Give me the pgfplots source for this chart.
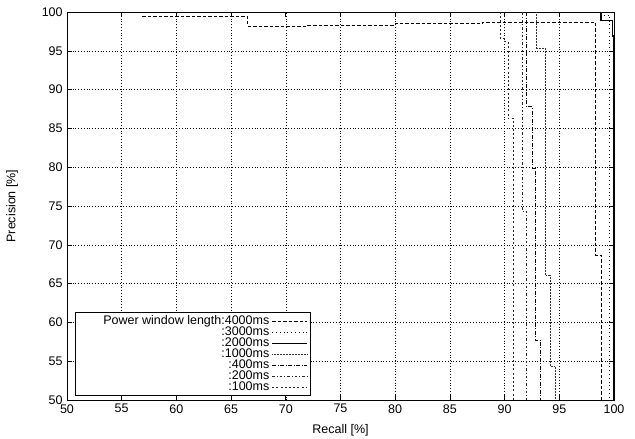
\documentclass[border=0pt]{standalone}
\usepackage{fontspec}
\setmainfont{Liberation Sans}
\usepackage{pgfplots}
\pgfplotsset{compat=1.18}
\begin{document}
\fontsize{12.5pt}{15pt}\selectfont
\begin{tikzpicture}
\useasboundingbox (-67pt,-39pt) rectangle (568pt,400pt);
\begin{axis}[
  at={(0,0)}, anchor=south west,
  scale only axis, width=547pt, height=388pt,
  xmin=50, xmax=100, ymin=50, ymax=100,
  xtick={50,55,...,100}, ytick={50,55,...,100},
  grid=major,
  major grid style={black, line width=0.4pt, dash pattern=on 0.6pt off 2.2pt},
  tick align=inside, major tick length=5pt,
  tick style={black, line width=0.6pt},
  axis line style={line width=0.9pt},
  /pgf/number format/assume math mode=true,
  tick label style={font=\fontsize{12.5pt}{15pt}\selectfont},
  label style={font=\fontsize{12.5pt}{15pt}\selectfont},
  xlabel={Recall [\%]}, ylabel={Precision [\%]},
  x label style={at={(axis description cs:0.5,-0.077)}, anchor=center},
  y label style={at={(axis description cs:-0.1005,0.5)}, anchor=center},
  legend plot pos=right,
  legend cell align=right,
  legend image code/.code={\draw[#1] (0pt,0pt) -- (35pt,0pt);},
  legend style={at={(axis description cs:0.0146,0.0103)}, anchor=south west,
    draw=black, line width=0.6pt, fill=white, font=\fontsize{12.5pt}{15pt}\selectfont,
    row sep=-3.6pt, inner xsep=2pt, inner ysep=1pt},
]
% 4000ms
\addplot[black, line width=0.7pt, dash pattern=on 3.5pt off 2pt] coordinates {
 (56.9,99.5) (66.5,99.5) (66.5,98.2) (72,98.2) (72,98.3) (80,98.3) (80,98.5)
 (88,98.5) (88,98.7) (98.3,98.7) (98.3,68.7) (98.8,68.7) (98.8,50)};
\addlegendentry{\hspace*{24pt}Power window length:4000ms}
% 3000ms
\addplot[black, line width=0.6pt, dash pattern=on 0.8pt off 3pt] coordinates {
 (99.0,100) (99.0,99.6) (99.45,99.6) (99.45,99.4) (99.6,99.4) (99.6,50)};
\addlegendentry{:3000ms}
% 2000ms
\addplot[black, line width=1.6pt] coordinates {
 (98.8,100) (98.8,98.9) (99.85,98.9) (99.85,96.9) (100,96.9) (100,50)};
\addlegendentry{:2000ms}
% 1000ms
\addplot[black!80, line width=0.5pt, dash pattern=on 0.6pt off 0.9pt] coordinates {
 (92.9,100) (92.9,95.3) (93.75,95.3) (93.75,66.1) (94.2,66.1) (94.2,54.3)
 (94.6,54.3) (94.6,50)};
\addlegendentry{:1000ms}
% 400ms
\addplot[black, line width=0.7pt, dash pattern=on 4pt off 1.5pt on 1pt off 1.5pt] coordinates {
 (92.0,100) (92.0,87.8) (92.5,87.8) (92.5,79.9) (92.85,79.9) (92.85,57.7)
 (93.3,57.7) (93.3,50)};
\addlegendentry{:400ms}
% 200ms
\addplot[black!85, line width=0.6pt, dash pattern=on 2.5pt off 2pt on 1pt off 2pt] coordinates {
 (91.65,100) (91.65,74.3) (92.0,74.3) (92.0,50)};
\addlegendentry{:200ms}
% 100ms
\addplot[black!85, line width=0.6pt, dash pattern=on 2pt off 2.2pt] coordinates {
 (89.6,100) (89.6,96.6) (89.95,96.6) (89.95,96.2) (90.3,96.2) (90.3,86.3)
 (90.8,86.3) (90.8,50)};
\addlegendentry{:100ms}
\end{axis}
\end{tikzpicture}
\end{document}
